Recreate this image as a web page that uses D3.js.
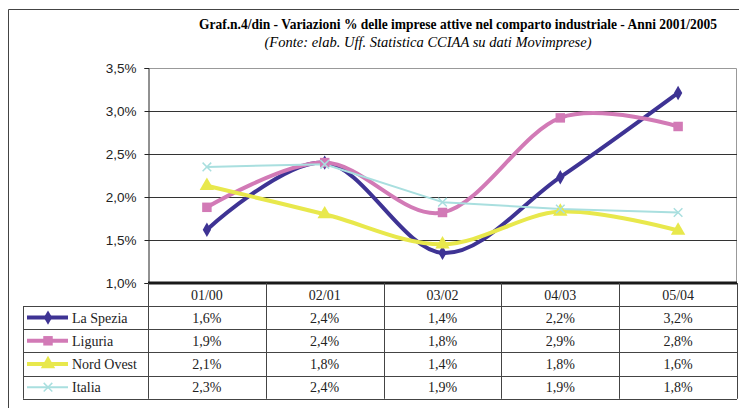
<!DOCTYPE html>
<html><head><meta charset="utf-8">
<script src="https://cdn.jsdelivr.net/npm/d3@7"></script>
<style>body{margin:0;background:#fff}svg{display:block}</style>
</head><body>
<script>
const categories = ["01/00","02/01","03/02","04/03","05/04"];
const laSpezia = [1.62, 2.40, 1.35, 2.23, 3.21];
const liguria = [1.88, 2.40, 1.82, 2.92, 2.82];
const nordOvest = [2.13, 1.80, 1.45, 1.83, 1.61];
const italia = [2.35, 2.38, 1.94, 1.86, 1.82];
const tableLaSpezia = ["1,6%","2,4%","1,4%","2,2%","3,2%"];
const tableLiguria = ["1,9%","2,4%","1,8%","2,9%","2,8%"];
const tableNordOvest = ["2,1%","1,8%","1,4%","1,8%","1,6%"];
const tableItalia = ["2,3%","2,4%","1,9%","1,9%","1,8%"];
const yTicks = [1.0,1.5,2.0,2.5,3.0,3.5];

const series = [
  {name:"La Spezia", values:laSpezia, table:tableLaSpezia, color:"#3e3394", width:4, marker:"diamond", smooth:true},
  {name:"Liguria", values:liguria, table:tableLiguria, color:"#d27ab6", width:4, marker:"square", smooth:true},
  {name:"Nord Ovest", values:nordOvest, table:tableNordOvest, color:"#e8e84c", width:4, marker:"triangle", smooth:true},
  {name:"Italia", values:italia, table:tableItalia, color:"#a9dfdf", width:2, marker:"x", smooth:false}
];

const W=739,H=408;
const svg=d3.select("body").append("svg").attr("width",W).attr("height",H);
const L=148,R=737,T=68,B=283;
const x=d3.scaleBand().domain(categories).range([L,R]);
const y=d3.scaleLinear().domain([1.0,3.5]).range([B,T]);

// outer frame
svg.append("path").attr("d",`M8.5,${H} V9.5 H${W}`).attr("fill","none").attr("stroke","#444").attr("stroke-width",1);

// title
svg.append("text").attr("x",458).attr("y",29).attr("text-anchor","middle")
  .attr("font-family","'Liberation Serif',serif").attr("font-weight","bold").attr("font-size",14)
  .attr("textLength",518).attr("lengthAdjust","spacingAndGlyphs")
  .text("Graf.n.4/din - Variazioni % delle imprese attive nel comparto industriale - Anni 2001/2005");
svg.append("text").attr("x",428).attr("y",47).attr("text-anchor","middle")
  .attr("font-family","'Liberation Serif',serif").attr("font-style","italic").attr("font-size",14)
  .attr("textLength",327).attr("lengthAdjust","spacingAndGlyphs")
  .text("(Fonte: elab. Uff. Statistica CCIAA su dati Movimprese)");

// plot border
svg.append("path").attr("d",`M${L},${T+0.5} H${R-0.5} V${B}`).attr("fill","none").attr("stroke","#999").attr("stroke-width",1);

// gridlines
svg.append("g").selectAll("line").data(yTicks.filter(d=>d>1.0&&d<3.5)).join("line")
  .attr("x1",L).attr("x2",R).attr("y1",d=>Math.round(y(d))+0.5).attr("y2",d=>Math.round(y(d))+0.5)
  .attr("stroke","#333").attr("stroke-width",1);

// y axis
const yAxis=d3.axisLeft(y).tickValues(yTicks).tickSize(4).tickPadding(8)
  .tickFormat(d=>d3.format(".1f")(d).replace(".",",")+"%");
const ga=svg.append("g").attr("transform",`translate(${L+0.5},0)`).call(yAxis);
ga.select(".domain").attr("stroke","#222");
ga.selectAll(".tick line").attr("stroke","#222");
ga.selectAll("text").attr("font-family","'Liberation Sans',Arial,sans-serif").attr("font-size",13.5).attr("fill","#222");

// lines
const lineSmooth=d3.line().x((d,i)=>x(categories[i])+x.bandwidth()/2).y(d=>y(d)).curve(d3.curveCatmullRom.alpha(0));
const lineStraight=d3.line().x((d,i)=>x(categories[i])+x.bandwidth()/2).y(d=>y(d));
const symbols={diamond:d3.symbolDiamond,square:d3.symbolSquare,triangle:d3.symbolTriangle,x:d3.symbolX};
const sizes={diamond:60,square:90,triangle:90,x:50};
series.forEach(s=>{
  svg.append("path").datum(s.values).attr("d",s.smooth?lineSmooth:lineStraight).attr("fill","none")
    .attr("stroke",s.color).attr("stroke-width",s.width).attr("stroke-linejoin","round");
});
series.forEach(s=>{
  svg.append("g").selectAll("path").data(s.values).join("path")
    .attr("transform",(d,i)=>`translate(${x(categories[i])+x.bandwidth()/2},${y(d)})`)
    .attr("d",d3.symbol(symbols[s.marker],sizes[s.marker]))
    .attr("fill",s.marker==="x"?"none":s.color)
    .attr("stroke",s.color).attr("stroke-width",s.marker==="x"?1.5:0);
});

// bottom axis thick line
svg.append("line").attr("x1",L).attr("x2",R).attr("y1",B).attr("y2",B).attr("stroke","#1a1a1a").attr("stroke-width",3);

// data table
const rowH=23.2, hdrBottom=306, legL=23;
const tg=svg.append("g").attr("font-family","'Liberation Serif',serif").attr("font-size",14).attr("fill","#222");
categories.forEach(c=>{
  tg.append("text").attr("x",x(c)+x.bandwidth()/2).attr("y",hdrBottom-6).attr("text-anchor","middle").text(c);
});
const bounds=categories.map(c=>x(c)).concat([R]);
bounds.forEach(b=>{
  svg.append("line").attr("x1",Math.round(b)+0.5).attr("x2",Math.round(b)+0.5).attr("y1",B).attr("y2",hdrBottom+rowH*4)
    .attr("stroke","#444").attr("stroke-width",1);
});
svg.append("line").attr("x1",legL+0.5).attr("x2",legL+0.5).attr("y1",hdrBottom).attr("y2",hdrBottom+rowH*4).attr("stroke","#444");
for(let k=0;k<=4;k++){
  const yy=Math.round(hdrBottom+rowH*k)+0.5;
  svg.append("line").attr("x1",legL).attr("x2",R).attr("y1",yy).attr("y2",yy).attr("stroke","#444").attr("stroke-width",1);
}
series.forEach((s,k)=>{
  const cy=hdrBottom+rowH*k+rowH/2;
  svg.append("line").attr("x1",27).attr("x2",68).attr("y1",cy).attr("y2",cy).attr("stroke",s.color).attr("stroke-width",s.width);
  svg.append("path").attr("transform",`translate(48,${cy})`).attr("d",d3.symbol(symbols[s.marker],sizes[s.marker]))
    .attr("fill",s.marker==="x"?"none":s.color).attr("stroke",s.color).attr("stroke-width",s.marker==="x"?1.5:0);
  tg.append("text").attr("x",72).attr("y",cy+5).text(s.name);
  s.table.forEach((v,i)=>{
    tg.append("text").attr("x",x(categories[i])+x.bandwidth()/2).attr("y",cy+5).attr("text-anchor","middle").text(v);
  });
});
</script>
</body></html>
